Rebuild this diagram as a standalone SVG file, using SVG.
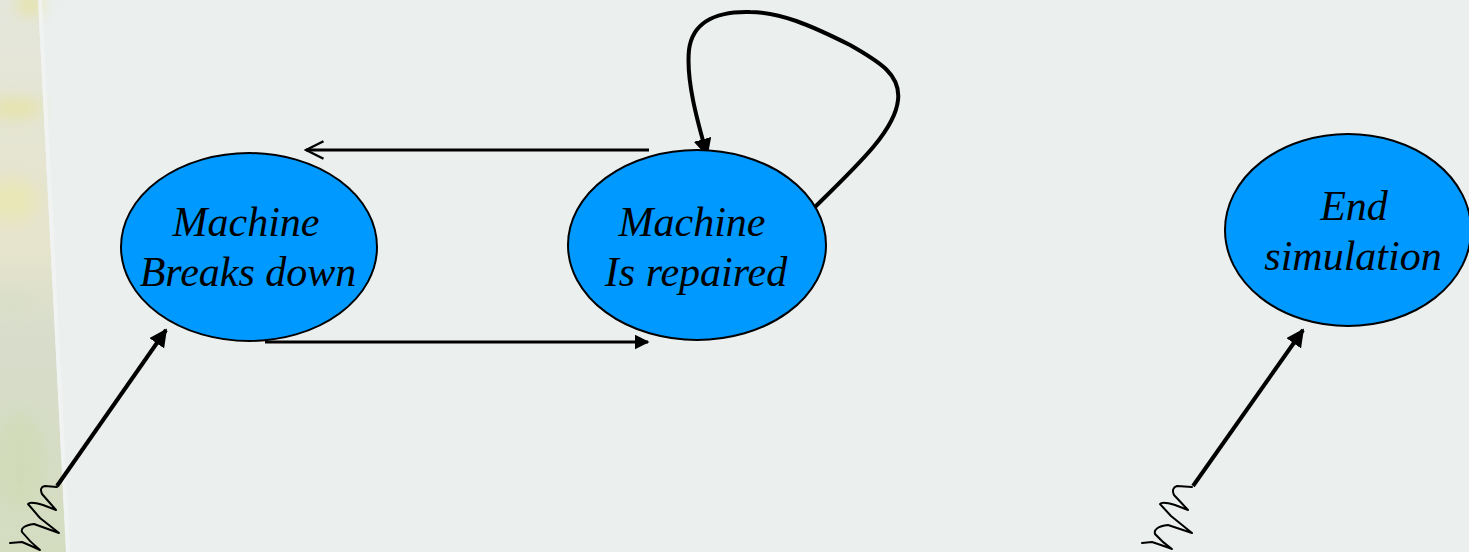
<svg xmlns="http://www.w3.org/2000/svg" width="1469" height="552" viewBox="0 0 1469 552">
<style>
.node ellipse{fill:#0099ff;stroke:#000;stroke-width:2}
.node text{font-family:"Liberation Serif","Times New Roman",serif;font-style:italic;font-size:42px;fill:#000;text-anchor:middle}
.edge{fill:none;stroke:#000;stroke-linecap:butt}
.sq{fill:none;stroke:#000;stroke-width:2;stroke-linejoin:round;stroke-linecap:round}
</style>
<defs>
<linearGradient id="strip" x1="0" y1="0" x2="0" y2="1">
<stop offset="0" stop-color="#e4e6dc"/>
<stop offset="0.2" stop-color="#e4e5d4"/>
<stop offset="0.45" stop-color="#e6e4cc"/>
<stop offset="0.6" stop-color="#d8ddcc"/>
<stop offset="1" stop-color="#d4dcc0"/>
</linearGradient>
<filter id="blur" x="-50%" y="-50%" width="200%" height="200%"><feGaussianBlur stdDeviation="8"/></filter>
<marker id="fill" viewBox="0 0 10 10" refX="9" refY="5" markerWidth="5" markerHeight="5" orient="auto" markerUnits="strokeWidth">
<path d="M0,0 L10,5 L0,10 Z" fill="#000"/>
</marker>
<marker id="fill4" viewBox="0 0 10 10" refX="9" refY="5" markerWidth="4.5" markerHeight="4.5" orient="auto" markerUnits="strokeWidth">
<path d="M0,0 L10,5 L0,10 Z" fill="#000"/>
</marker>
<marker id="open" viewBox="0 0 12 12" refX="11" refY="6" markerWidth="7" markerHeight="7" orient="auto" markerUnits="strokeWidth">
<path d="M1,1 L11,6 L1,11" fill="none" stroke="#000" stroke-width="1.4"/>
</marker>
</defs>
<rect width="1469" height="552" fill="#ebefee"/>
<g id="background-strip">
<polygon points="0,0 38,0 66,552 0,552" fill="url(#strip)"/>
<g filter="url(#blur)" opacity="0.5">
<ellipse cx="30" cy="5" rx="14" ry="10" fill="#e8e070"/>
<ellipse cx="15" cy="108" rx="28" ry="8" fill="#e8e070"/>
<ellipse cx="12" cy="200" rx="26" ry="22" fill="#ece8a0"/>
<ellipse cx="12" cy="300" rx="20" ry="14" fill="#d6dec4"/>
<ellipse cx="20" cy="460" rx="25" ry="50" fill="#cedaae"/>
</g>
<polygon points="38,0 66,552 70,552 42,0" fill="#f2f4f2" opacity="0.8"/>
</g>
<g id="connectors">
<path class="edge" d="M649,150 L306,150" stroke-width="3" marker-end="url(#open)"/>
<path class="edge" d="M265,342 L648,342" stroke-width="3" marker-end="url(#fill)"/>
<path class="edge" d="M815,207 C860,163 895,130 898,100 C901,75 880,62 850,45 C810,25 780,12 750,12 C712,11 692,25 689,50 C686,80 697,120 707,155" stroke-width="4" marker-end="url(#fill4)"/>
<path class="edge" d="M57,486 L166,330" stroke-width="4" marker-end="url(#fill4)"/>
<path class="edge" d="M1193,486 L1303,330" stroke-width="4" marker-end="url(#fill4)"/>
<path class="sq" d="M57,487 L45,486 Q39,487 42,494 L56,510 L43,505 Q30,501 28,504 L40,518 L59,533 L34,524 Q20,526 22,532 Q30,542 40,550 Q36,548 22,542 L10,543"/>
<path class="sq" d="M1192,487 L1177,486 Q1171,488 1174,495 L1188,510 L1175,505 Q1162,501 1160,504 L1171,516 L1192,533 L1168,525 Q1153,527 1155,534 Q1163,543 1172,549 Q1167,547 1152,542 L1142,543"/>
</g>
<g id="node-breaks-down" class="node">
<ellipse cx="249" cy="247" rx="128" ry="94"/>
<text x="246" y="236">Machine</text>
<text x="248" y="286">Breaks down</text>
</g>
<g id="node-repaired" class="node">
<ellipse cx="697" cy="245" rx="129" ry="95"/>
<text x="692" y="236">Machine</text>
<text x="696" y="286">Is repaired</text>
</g>
<g id="node-end" class="node">
<ellipse cx="1348" cy="230" rx="123" ry="96"/>
<text x="1354" y="220">End</text>
<text x="1353" y="270">simulation</text>
</g>
</svg>
